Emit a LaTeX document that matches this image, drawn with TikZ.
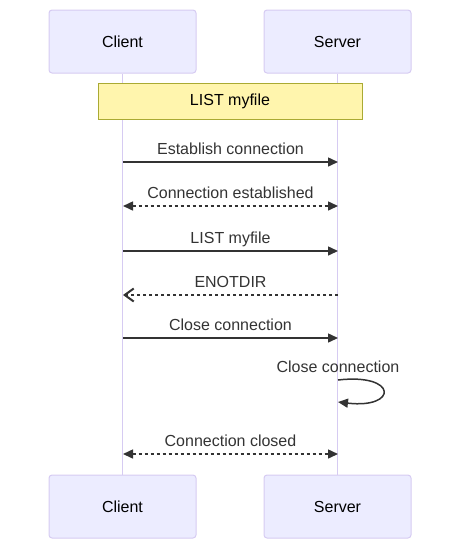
\documentclass[tikz,border=0pt]{standalone}
\usepackage{fontspec}
\setmainfont{Liberation Sans}
\usetikzlibrary{arrows.meta,positioning}
\definecolor{actorfill}{HTML}{ECECFF}
\definecolor{actorline}{HTML}{D6CBF2}
\definecolor{notefill}{HTML}{FFF5AD}
\definecolor{noteline}{HTML}{AAAA33}
\definecolor{ink}{HTML}{333333}

\begin{document}
\begin{tikzpicture}[x=1pt,y=-1pt,>={Triangle[length=10pt,width=9pt]},
                    line width=1.5pt,node distance=401pt,
    actor/.style={draw=actorline,fill=actorfill,line width=1pt,rounded corners=3pt,
                  minimum width=147pt,minimum height=63pt,inner sep=0pt,
                  text=black,font=\fontsize{16}{19}\selectfont},
    note/.style={draw=noteline,fill=notefill,line width=1pt,minimum width=264pt,
                 minimum height=36pt,inner sep=0pt,text=black,font=\fontsize{16}{19}\selectfont},
    msg/.style={draw=ink,->},
    reply/.style={draw=ink,<->,dash pattern=on 3pt off 3pt},
    async/.style={draw=ink,-{Straight Barb[length=9pt,width=13pt,line width=2pt]},
                  dash pattern=on 3pt off 3pt},
    lbl/.style={anchor=base,yshift=7.5pt,inner sep=0pt,text=ink,font=\fontsize{16}{19}\selectfont}]

        \useasboundingbox (0,0) rectangle (470,558);

        \node[actor] (ct) at (122.5,41.5) {Client};
        \node[actor] (st) at (337.5,41.5) {Server};
        \node[actor] (cb) [below=of ct] {Client};
        \node[actor] (sb) [below=of st] {Server};

        % lifelines
        \draw[actorline,line width=1.8pt] (ct) -- (cb);
        \draw[actorline,line width=1.8pt] (st) -- (sb);

        \node[note] (list) at (230,101) {LIST myfile};

        \foreach \n/\y in {1/162,2/206,3/251,4/295,5/338,6/454} {
            \coordinate (c\n) at (123,\y);
            \coordinate (s\n) at (338,\y);
        }
        \coordinate (l1) at (338,380);
        \coordinate (l2) at (338,402);

        \path (c1) edge [msg] node[lbl] {Establish connection} (s1)
              (c2) edge [reply] node[lbl] {Connection established} (s2)
              (c3) edge [msg] node[lbl] {LIST myfile} (s3)
              (s4) edge [async] node[lbl] {ENOTDIR} (c4)
              (c5) edge [msg] node[lbl] {Close connection} (s5)
              (c6) edge [reply] node[lbl] {Connection closed} (s6);

        \draw[msg] (l1) node[lbl] {Close connection}
              .. controls (398,373) and (398,409) .. (l2);
\end{tikzpicture}
\end{document}
